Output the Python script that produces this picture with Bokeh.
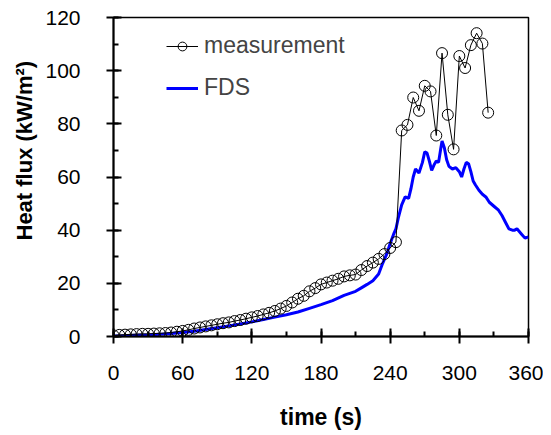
from bokeh.plotting import figure
from bokeh.models import Legend, LegendItem, FixedTicker, Title
from bokeh.embed import file_html
from bokeh.resources import INLINE

# measurement (5 s sampling)
meas_t = [0, 5, 10, 15, 20, 25, 30, 35, 40, 45, 50, 55, 60, 65, 70, 75, 80, 85, 90, 95,
          100, 105, 110, 115, 120, 125, 130, 135, 140, 145, 150, 155, 160, 165, 170, 175,
          180, 185, 190, 195, 200, 205, 210, 215, 220, 225, 230, 235, 240, 245,
          250, 255, 260, 265, 270, 275, 280, 285, 290, 295, 300, 305, 310, 315, 320, 325]
meas_q = [0.4, 0.6, 0.7, 0.8, 0.9, 1.0, 1.0, 1.1, 1.2, 1.3, 1.5, 1.8, 2.1, 2.5, 3.0, 3.4,
          3.8, 4.2, 4.6, 5.0, 5.3, 5.8, 6.2, 6.7, 7.2, 7.7, 8.3, 8.9, 9.6, 10.5, 11.5, 12.8,
          14.2, 15.3, 17.0, 18.2, 19.6, 20.3, 21.0, 21.7, 22.6, 23.0, 23.3, 25.0, 26.5, 27.8,
          29.2, 31.0, 33.3, 35.5,
          77.5, 79.6, 89.9, 84.9, 94.3, 92.2, 75.6, 106.6, 83.4, 70.4, 105.5, 101.0, 109.6,
          114.1, 110.2, 84.2]

# FDS prediction
fds_t = [0, 10, 20, 30, 40, 50, 60, 70, 80, 90, 100, 110, 120, 130, 140, 150, 160, 170,
         180, 190, 200, 210, 215, 220, 225, 230, 233, 235, 237, 240, 243, 245, 247, 250,
         253, 256, 258, 260, 262, 265, 268, 270, 272, 274, 276, 278, 280, 282, 284, 285,
         287, 289, 291, 294, 297, 300, 302, 304, 306, 308, 310, 312, 314, 317, 320, 323,
         326, 330, 334, 337, 340, 343, 346, 348, 350, 352, 354, 357, 360]
fds_q = [0.2, 0.3, 0.5, 0.6, 0.8, 1.1, 1.5, 2.0, 2.6, 3.3, 4.0, 4.7, 5.5, 6.4, 7.3, 8.2,
         9.2, 10.6, 12.0, 13.5, 15.5, 17.0, 18.3, 19.6, 21.0, 23.5, 27.0, 29.0, 31.0, 35.0,
         38.5, 40.5, 44.5, 49.5, 52.5, 52.0, 55.5, 60.0, 63.0, 61.5, 65.5, 69.5, 69.0, 66.0,
         62.5, 64.5, 66.0, 65.5, 71.0, 73.5, 71.0, 66.5, 64.0, 63.0, 63.5, 62.0, 60.0, 63.0,
         65.5, 65.0, 62.0, 58.5, 57.0, 55.0, 53.5, 52.5, 50.5, 49.0, 47.5, 45.5, 43.0, 40.5,
         40.0, 40.0, 40.5, 39.5, 38.5, 37.0, 37.5]

x_ticks = [0, 60, 120, 180, 240, 300, 360]
y_ticks = [0, 20, 40, 60, 80, 100, 120]

FONT = "Liberation Sans"

p = figure(width=543, height=435, output_backend="svg", toolbar_location=None,
           x_range=(0, 360), y_range=(0, 120),
           min_border_left=113, min_border_right=15, min_border_top=17, min_border_bottom=99)
p.xgrid.visible = False
p.ygrid.visible = False
p.outline_line_color = "black"
p.outline_line_width = 1.5
p.background_fill_color = "white"
p.border_fill_color = "white"

fds = p.line(fds_t, fds_q, line_color="#0000ff", line_width=3)
ml = p.line(meas_t, meas_q, line_color="black", line_width=1)
mc = p.scatter(meas_t, meas_q, marker="circle", size=11, line_color="black",
               line_width=1, fill_alpha=0)

p.xaxis.ticker = FixedTicker(ticks=x_ticks, minor_ticks=list(range(0, 361, 30)))
p.yaxis.ticker = FixedTicker(ticks=y_ticks, minor_ticks=list(range(0, 121, 10)))

for ax in (p.xaxis[0], p.yaxis[0]):
    ax.axis_line_width = 2
    ax.axis_line_color = "black"
    ax.major_tick_in = 8
    ax.major_tick_out = 7
    ax.major_tick_line_width = 2
    ax.minor_tick_in = 5
    ax.minor_tick_out = 0
    ax.minor_tick_line_width = 2
    ax.major_label_text_font = FONT
    ax.major_label_text_font_size = "21px"
    ax.major_label_text_color = "black"
    ax.axis_label_text_font = FONT
    ax.axis_label_text_font_style = "bold"
    ax.axis_label_text_color = "black"

p.xaxis.axis_label_text_font_size = "23px"
p.xaxis.major_label_standoff = 22
p.yaxis.major_label_standoff = 26
p.xaxis.axis_label_standoff = 21
p.xaxis.axis_label = "time (s)"

ytitle = Title(text="Heat flux (kW/m²)", align="left", offset=90, standoff=0,
               padding=6,
               text_font=FONT, text_font_size="22px", text_font_style="bold",
               text_color="black")
p.add_layout(ytitle, "left")

legend = Legend(items=[LegendItem(label="measurement", renderers=[ml, mc]),
                       LegendItem(label="FDS", renderers=[fds])],
                location=(48, 230), margin=0, padding=5,
                glyph_width=32, glyph_height=22, label_height=22, spacing=15,
                label_standoff=6, label_text_font=FONT, label_text_font_size="23px",
                border_line_alpha=0, background_fill_alpha=0)
p.add_layout(legend)

open("out.html", "w").write(file_html(p, INLINE))
